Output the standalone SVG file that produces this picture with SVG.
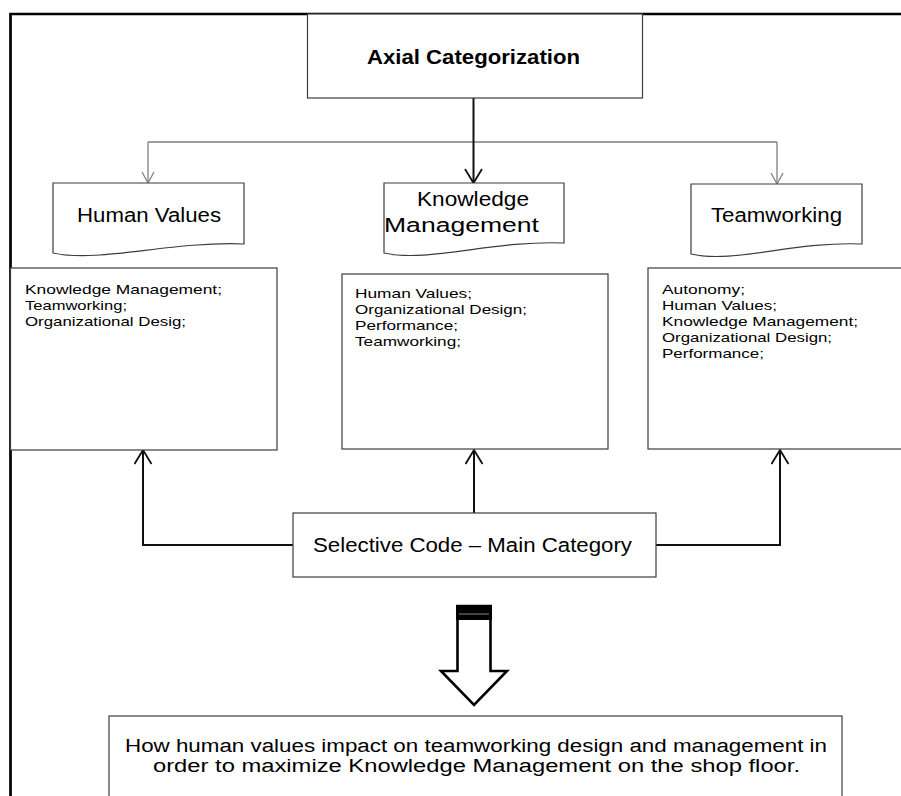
<svg xmlns="http://www.w3.org/2000/svg" width="901" height="796" viewBox="0 0 901 796">
<style>
.box{fill:#fff;stroke:#3c3c3c;stroke-width:1.2}
.t20{font-family:"Liberation Sans",Arial,sans-serif;font-size:20px;fill:#000}
.tb{font-family:"Liberation Sans",Arial,sans-serif;font-size:20px;font-weight:bold;fill:#000}
.t18{font-family:"Liberation Sans",Arial,sans-serif;font-size:18px;fill:#000}
.t14{font-family:"Liberation Sans",Arial,sans-serif;font-size:13.5px;fill:#000}
.cg{fill:none;stroke:#808080;stroke-width:1.3}
.cb{fill:none;stroke:#111;stroke-width:2}
</style>
<defs>
<marker id="ag" markerUnits="userSpaceOnUse" viewBox="0 0 14 14" markerWidth="14" markerHeight="14" refX="12" refY="7" orient="auto">
<path d="M1,1 L12,7 L1,13" fill="none" stroke="#808080" stroke-width="1.3"/>
</marker>
<marker id="ab" markerUnits="userSpaceOnUse" viewBox="0 0 17 19" markerWidth="17" markerHeight="19" refX="15" refY="9.5" orient="auto">
<path d="M1,1 L15,9.5 L1,18" fill="none" stroke="#111" stroke-width="1.8"/>
</marker>
</defs>
<rect x="0" y="0" width="901" height="796" fill="#fff"/>
<g id="frame" fill="none" stroke="#000" stroke-width="2.7">
<path d="M10.5,796 V14 H901"/>
</g>
<g id="connectors">
<path class="cg" d="M148,142 H777"/>
<path class="cg" d="M148,142 V183" marker-end="url(#ag)"/>
<path class="cg" d="M777,142 V184" marker-end="url(#ag)"/>
<path class="cb" d="M473.5,98 V183" marker-end="url(#ab)"/>
<path class="cb" d="M293,545 H143 V450" marker-end="url(#ab)"/>
<path class="cb" d="M474,513 V450" marker-end="url(#ab)"/>
<path class="cb" d="M656,545 H780 V450" marker-end="url(#ab)"/>
</g>
<g id="axial">
<rect class="box" x="307.5" y="14" width="335" height="84"/>
<text class="tb" x="367" y="64" textLength="213" lengthAdjust="spacingAndGlyphs">Axial Categorization</text>
</g>
<g id="human-values">
<path class="box" d="M53,183 H244 V244 C170,241 100,263 53,253 Z"/>
<text class="t20" x="77" y="222" textLength="144" lengthAdjust="spacingAndGlyphs">Human Values</text>
</g>
<g id="knowledge-management">
<path class="box" d="M384,183 H564 V243 C494,240 428,263 384,253 Z"/>
<text class="t20" x="417" y="206" textLength="112" lengthAdjust="spacingAndGlyphs">Knowledge</text>
<text class="t20" x="384" y="232" textLength="155" lengthAdjust="spacingAndGlyphs">Management</text>
</g>
<g id="teamworking">
<path class="box" d="M691,184 H862 V244 C795,241 733,264 691,254 Z"/>
<text class="t20" x="711" y="222" textLength="131" lengthAdjust="spacingAndGlyphs">Teamworking</text>
</g>
<g id="hv-list">
<rect class="box" x="10.5" y="268" width="266.5" height="182"/>
<text class="t14" x="25" y="294" textLength="197" lengthAdjust="spacingAndGlyphs">Knowledge Management;</text>
<text class="t14" x="25" y="310" textLength="102" lengthAdjust="spacingAndGlyphs">Teamworking;</text>
<text class="t14" x="25" y="326" textLength="161" lengthAdjust="spacingAndGlyphs">Organizational Desig;</text>
</g>
<g id="km-list">
<rect class="box" x="342" y="274" width="266" height="175"/>
<text class="t14" x="355" y="298" textLength="117" lengthAdjust="spacingAndGlyphs">Human Values;</text>
<text class="t14" x="355" y="314" textLength="172" lengthAdjust="spacingAndGlyphs">Organizational Design;</text>
<text class="t14" x="355" y="330" textLength="103" lengthAdjust="spacingAndGlyphs">Performance;</text>
<text class="t14" x="355" y="346" textLength="106" lengthAdjust="spacingAndGlyphs">Teamworking;</text>
</g>
<g id="tw-list">
<rect class="box" x="648" y="268" width="260" height="181"/>
<text class="t14" x="662" y="294" textLength="83" lengthAdjust="spacingAndGlyphs">Autonomy;</text>
<text class="t14" x="662" y="310" textLength="115" lengthAdjust="spacingAndGlyphs">Human Values;</text>
<text class="t14" x="662" y="326" textLength="196" lengthAdjust="spacingAndGlyphs">Knowledge Management;</text>
<text class="t14" x="662" y="342" textLength="170" lengthAdjust="spacingAndGlyphs">Organizational Design;</text>
<text class="t14" x="662" y="358" textLength="102" lengthAdjust="spacingAndGlyphs">Performance;</text>
</g>
<g id="selective-code">
<rect class="box" x="293" y="513" width="363" height="64"/>
<text class="t20" x="313" y="552" textLength="319" lengthAdjust="spacingAndGlyphs">Selective Code – Main Category</text>
</g>
<g id="block-arrow">
<path d="M457.5,606 H490.5 V671 H507 L474,705 L441,671 H457.5 Z" fill="#fff" stroke="#000" stroke-width="2.6" stroke-linejoin="miter"/>
<rect x="456" y="605" width="36" height="15" fill="#000"/>
<line x1="459" y1="614" x2="489" y2="614" stroke="#888" stroke-width="1"/>
</g>
<g id="research-question">
<rect class="box" x="109" y="716" width="733" height="100"/>
<text class="t18" x="125" y="752" textLength="702" lengthAdjust="spacingAndGlyphs">How human values impact on teamworking design and management in</text>
<text class="t18" x="153" y="772" textLength="647" lengthAdjust="spacingAndGlyphs">order to maximize Knowledge Management on the shop floor.</text>
</g>
</svg>
